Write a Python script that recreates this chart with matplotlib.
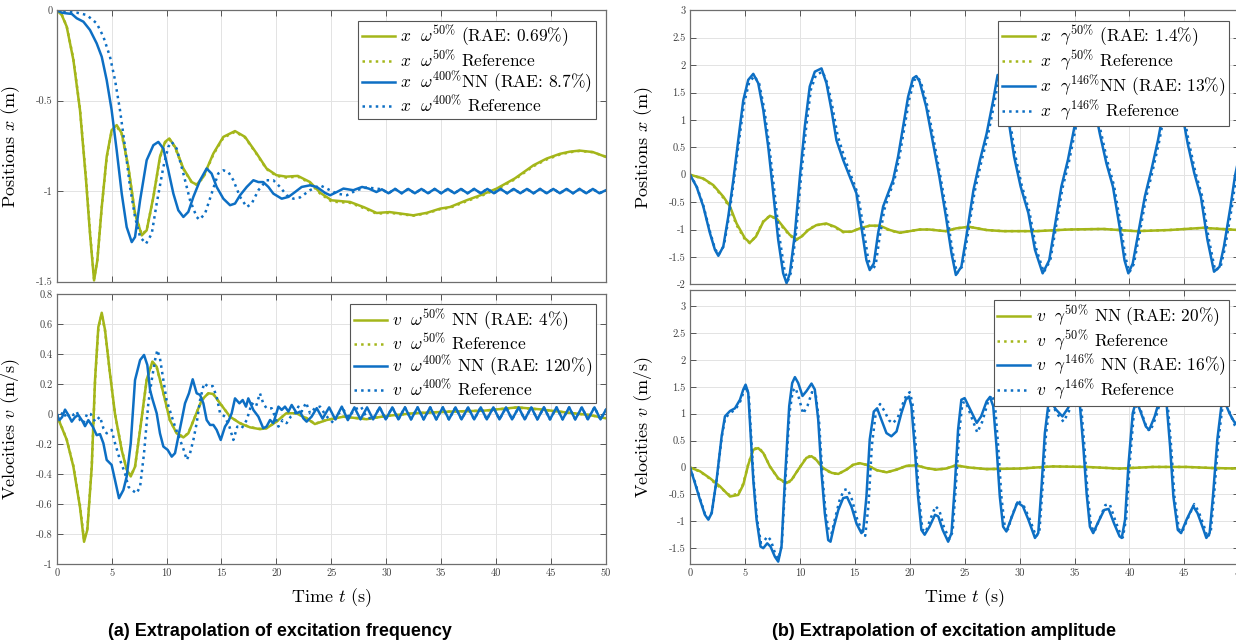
import numpy as np
import matplotlib
matplotlib.use('Agg')
import matplotlib.pyplot as plt
from matplotlib.ticker import FuncFormatter, MultipleLocator

# ---- data (time s, value) ----
# (a) frequency extrapolation, positions
xw50_nn = [(0, 0), (0.46, -0.026), (0.91, -0.09), (1.52, -0.275), (2.12, -0.552), (2.67, -0.94), (3.03, -1.235),
           (3.4, -1.494), (3.7, -1.383), (4.1, -1.088), (4.55, -0.81), (5.0, -0.663), (5.46, -0.635), (5.92, -0.68),
           (6.52, -0.866), (7.13, -1.124), (7.74, -1.245), (8.19, -1.217), (8.8, -1.032), (9.4, -0.81), (9.86, -0.728),
           (10.25, -0.709), (10.77, -0.755), (11.53, -0.875), (12.29, -0.95), (12.74, -0.964), (13.35, -0.921),
           (14.26, -0.792), (15.17, -0.70), (16.23, -0.668), (17.14, -0.70), (18.2, -0.792), (19.1, -0.875),
           (20.0, -0.912), (20.9, -0.92), (21.95, -0.916), (23.06, -0.95), (24.0, -1.01), (25.03, -1.051),
           (26.7, -1.06), (28.0, -1.09), (29.13, -1.121), (30.3, -1.116), (31.4, -1.125), (32.46, -1.134),
           (33.7, -1.12), (34.9, -1.097), (35.8, -1.088), (37.3, -1.051), (38.7, -1.02), (40.05, -0.986),
           (41.7, -0.93), (43.4, -0.857), (44.6, -0.82), (45.8, -0.794), (46.7, -0.782), (47.6, -0.776),
           (48.8, -0.784), (50, -0.811)]
xw50_ref = [(0, 0), (0.46, -0.024), (0.91, -0.088), (1.52, -0.27), (2.12, -0.545), (2.67, -0.93), (3.03, -1.225),
            (3.4, -1.485), (3.7, -1.38), (4.1, -1.09), (4.55, -0.815), (5.0, -0.67), (5.46, -0.642), (5.92, -0.685),
            (6.52, -0.87), (7.13, -1.125), (7.74, -1.24), (8.19, -1.215), (8.8, -1.035), (9.4, -0.815), (9.86, -0.732),
            (10.25, -0.712), (10.77, -0.758), (11.53, -0.878), (12.29, -0.952), (12.74, -0.965), (13.35, -0.925),
            (14.26, -0.797), (15.17, -0.705), (16.23, -0.672), (17.14, -0.703), (18.2, -0.795), (19.1, -0.878),
            (20.0, -0.916), (20.9, -0.925), (21.95, -0.92), (23.06, -0.955), (24.0, -1.015), (25.03, -1.058),
            (26.7, -1.065), (28.0, -1.095), (29.13, -1.125), (30.3, -1.12), (31.4, -1.128), (32.46, -1.136),
            (33.7, -1.123), (34.9, -1.1), (35.8, -1.092), (37.3, -1.056), (38.7, -1.025), (40.05, -0.99),
            (41.7, -0.935), (43.4, -0.862), (44.6, -0.825), (45.8, -0.798), (46.7, -0.785), (47.6, -0.778),
            (48.8, -0.785), (50, -0.81)]
xw400_tail = [(29.6, -0.99), (30.2, -1.012), (30.8, -0.988), (31.4, -1.012), (32.0, -0.988), (32.6, -1.012),
              (33.2, -0.988), (33.8, -1.012), (34.4, -0.988), (35.0, -1.012), (35.6, -0.988), (36.2, -1.012),
              (36.8, -0.988), (37.4, -1.012), (38.0, -0.988), (38.6, -1.012), (39.2, -0.988), (39.8, -1.012),
              (40.4, -0.988), (41.0, -1.012), (41.6, -0.988), (42.2, -1.012), (42.8, -0.988), (43.4, -1.012),
              (44.0, -0.988), (44.6, -1.012), (45.2, -0.988), (45.8, -1.012), (46.4, -0.988), (47.0, -1.012),
              (47.6, -0.988), (48.2, -1.012), (48.8, -0.988), (49.4, -1.012), (50.0, -0.995)]
xw400_nn = [(0, 0), (0.46, -0.013), (0.91, -0.017), (1.37, -0.02), (1.82, -0.044), (2.43, -0.063), (3.03, -0.109),
            (3.64, -0.183), (4.1, -0.257), (4.55, -0.386), (5.0, -0.552), (5.46, -0.774), (5.92, -1.014),
            (6.37, -1.199), (6.83, -1.282), (7.13, -1.254), (7.59, -1.051), (8.19, -0.829), (8.8, -0.746),
            (9.25, -0.728), (9.71, -0.765), (10.16, -0.885), (10.62, -1.014), (11.07, -1.106), (11.53, -1.143),
            (11.98, -1.115), (12.44, -1.032), (13.05, -0.94), (13.65, -0.875), (14.1, -0.903), (14.56, -0.977),
            (15.17, -1.042), (15.78, -1.078), (16.23, -1.069), (16.69, -1.023), (17.3, -0.977), (17.9, -0.94),
            (18.36, -0.95), (18.8, -0.95), (19.27, -0.977), (19.72, -1.014), (20.48, -1.042), (21.1, -1.032),
            (21.7, -1.005), (22.3, -0.977), (23.06, -0.968), (23.67, -0.977), (24.43, -1.01), (24.89, -1.023),
            (25.5, -1.005), (26.1, -0.986), (27.0, -0.995), (27.8, -0.977), (28.4, -0.986), (29.1, -1.005)] + xw400_tail
xw400_ref = [(0, 0), (1.82, -0.013), (2.73, -0.026), (3.64, -0.072), (4.25, -0.146), (4.85, -0.257), (5.31, -0.386),
             (5.76, -0.552), (6.22, -0.755), (6.67, -0.977), (7.13, -1.143), (7.59, -1.254), (8.13, -1.291),
             (8.65, -1.236), (9.1, -1.069), (9.71, -0.866), (10.16, -0.755), (10.47, -0.728), (10.92, -0.765),
             (11.53, -0.903), (12.14, -1.051), (12.74, -1.143), (12.99, -1.158), (13.5, -1.125), (14.1, -1.014),
             (14.7, -0.903), (15.17, -0.885), (15.62, -0.894), (16.08, -0.94), (16.69, -1.032), (17.3, -1.088),
             (17.75, -1.069), (18.36, -0.995), (19.1, -0.94), (19.72, -0.94), (20.33, -0.977), (20.93, -1.023),
             (21.54, -1.042), (22.15, -1.035), (23.06, -0.995), (23.97, -0.968), (24.58, -0.986), (25.5, -1.014),
             (26.4, -1.023), (27.3, -0.995), (28.2, -0.98), (29.1, -0.986)] + xw400_tail

# (a) frequency extrapolation, velocities
vw50_nn = [(0, 0), (0.3, -0.06), (0.91, -0.17), (1.52, -0.35), (2.12, -0.62), (2.49, -0.85), (2.79, -0.77),
           (3.19, -0.35), (3.49, 0.23), (3.79, 0.58), (4.1, 0.675), (4.4, 0.56), (4.85, 0.27), (5.31, 0.0),
           (5.92, -0.24), (6.37, -0.37), (6.74, -0.415), (7.13, -0.35), (7.59, -0.105), (8.19, 0.23), (8.71, 0.35),
           (9.1, 0.316), (9.71, 0.14), (10.3, -0.04), (10.92, -0.128), (11.53, -0.155), (11.98, -0.128),
           (12.59, -0.017), (13.2, 0.094), (13.8, 0.139), (14.26, 0.134), (14.87, 0.072), (15.78, -0.017),
           (16.69, -0.061), (17.6, -0.088), (18.5, -0.10), (19.1, -0.094), (20.0, -0.05), (20.9, 0.006),
           (21.8, 0.006), (22.75, -0.028), (23.5, -0.066), (24.58, -0.039), (26.1, -0.017), (28.2, -0.034),
           (30.0, -0.012), (32.5, 0.006), (35.8, 0.017), (38.9, 0.023), (41.9, 0.045), (44.0, 0.032),
           (46.5, 0.01), (48.5, -0.006), (50, -0.028)]
vw50_ref = [(0, 0), (0.3, -0.058), (0.91, -0.168), (1.52, -0.345), (2.12, -0.61), (2.49, -0.835), (2.79, -0.76),
            (3.19, -0.35), (3.49, 0.22), (3.79, 0.57), (4.1, 0.665), (4.4, 0.555), (4.85, 0.27), (5.31, 0.0),
            (5.92, -0.235), (6.37, -0.365), (6.74, -0.41), (7.13, -0.35), (7.59, -0.105), (8.19, 0.225), (8.71, 0.345),
            (9.1, 0.312), (9.71, 0.14), (10.3, -0.04), (10.92, -0.126), (11.53, -0.152), (11.98, -0.126),
            (12.59, -0.017), (13.2, 0.092), (13.8, 0.137), (14.26, 0.132), (14.87, 0.072), (15.78, -0.017),
            (16.69, -0.06), (17.6, -0.087), (18.5, -0.098), (19.1, -0.093), (20.0, -0.05), (20.9, 0.006),
            (21.8, 0.006), (22.75, -0.027), (23.5, -0.064), (24.58, -0.038), (26.1, -0.017), (28.2, -0.033),
            (30.0, -0.012), (32.5, 0.006), (35.8, 0.017), (38.9, 0.023), (41.9, 0.044), (44.0, 0.031),
            (46.5, 0.01), (48.5, -0.006), (50, -0.027)]
vw400_tail = [(29.4, 0.045), (29.95, -0.035), (30.55, 0.045), (31.1, -0.035), (31.7, 0.045), (32.25, -0.035),
              (32.85, 0.045), (33.4, -0.035), (34.0, 0.045), (34.55, -0.035), (35.15, 0.045), (35.7, -0.035),
              (36.3, 0.045), (36.85, -0.035), (37.45, 0.045), (38.0, -0.035), (38.6, 0.045), (39.15, -0.035),
              (39.75, 0.045), (40.3, -0.035), (40.9, 0.045), (41.45, -0.035), (42.05, 0.045), (42.6, -0.035),
              (43.2, 0.045), (43.75, -0.035), (44.35, 0.045), (44.9, -0.035), (45.5, 0.045), (46.05, -0.035),
              (46.65, 0.045), (47.2, -0.035), (47.8, 0.045), (48.35, -0.035), (48.95, 0.045), (49.5, -0.035),
              (50, 0.03)]
vw400_nn = [(0, 0), (0.24, -0.04), (0.49, -0.02), (0.76, 0.03), (1.06, -0.006), (1.37, -0.05), (1.67, -0.02),
            (1.97, -0.006), (2.37, -0.05), (2.58, -0.08), (2.88, -0.04), (3.28, -0.083), (3.64, -0.14), (3.94, -0.133),
            (4.25, -0.194), (4.55, -0.305), (5.0, -0.338), (5.31, -0.44), (5.67, -0.56), (6.07, -0.505),
            (6.37, -0.416), (6.74, -0.194), (7.13, 0.227), (7.59, 0.36), (7.95, 0.394), (8.25, 0.327), (8.5, 0.16),
            (8.74, 0.094), (9.1, 0.006), (9.4, -0.128), (9.71, -0.216), (10.1, -0.238), (10.47, -0.283),
            (10.77, -0.26), (11.07, -0.15), (11.38, -0.039), (11.68, 0.072), (12.04, 0.139), (12.38, 0.232),
            (12.74, 0.139), (13.05, 0.128), (13.35, 0.072), (13.65, -0.039), (13.96, -0.072), (14.26, -0.072),
            (14.56, -0.105), (14.93, -0.172), (15.32, -0.083), (15.62, -0.05), (15.93, 0.006), (16.23, 0.105),
            (16.63, 0.072), (16.93, 0.094), (17.23, 0.05), (17.44, 0.105), (17.9, 0.028), (18.36, -0.017),
            (18.8, -0.094), (19.1, -0.083), (19.42, -0.039), (19.72, -0.06), (20.18, 0.05), (20.48, 0.028),
            (20.78, 0.05), (21.09, 0.017), (21.39, 0.061), (21.85, 0.006), (22.15, 0.017), (22.45, -0.028),
            (22.75, -0.05), (23.2, -0.017), (23.67, 0.04), (24.2, -0.03), (24.8, 0.045), (25.35, -0.035),
            (25.95, 0.05), (26.5, -0.04), (27.1, 0.045), (27.65, -0.035), (28.25, 0.045), (28.8, -0.035)] + vw400_tail
vw400_ref = [(0, 0), (0.3, -0.017), (0.6, 0.017), (0.91, -0.028), (1.21, 0.006), (1.52, -0.006), (1.82, 0.017),
             (2.12, -0.04), (2.43, -0.06), (2.79, 0.006), (3.1, 0.0), (3.49, -0.05), (3.94, -0.017), (4.25, -0.094),
             (4.55, -0.128), (5.0, -0.105), (5.31, -0.194), (5.76, -0.305), (6.22, -0.394), (6.52, -0.483),
             (6.83, -0.505), (7.28, -0.527), (7.59, -0.483), (7.95, -0.26), (8.34, 0.072), (8.65, 0.227),
             (8.95, 0.36), (9.16, 0.427), (9.4, 0.372), (9.71, 0.227), (10.0, 0.094), (10.38, 0.006), (10.77, -0.083),
             (11.23, -0.172), (11.62, -0.25), (11.83, -0.305), (12.14, -0.26), (12.44, -0.172), (12.74, -0.06),
             (13.05, 0.094), (13.41, 0.205), (13.8, 0.183), (14.2, 0.187), (14.56, 0.116), (14.87, 0.006),
             (15.32, -0.017), (15.72, -0.083), (16.08, -0.172), (16.44, -0.083), (16.84, -0.094), (17.3, -0.039),
             (17.75, 0.072), (18.14, 0.05), (18.5, 0.139), (18.8, 0.072), (19.1, 0.039), (19.57, 0.039),
             (19.87, -0.017), (20.18, -0.083), (20.57, -0.039), (20.93, -0.06), (21.3, -0.017), (21.7, 0.006),
             (22.0, 0.05), (22.3, 0.017), (22.7, 0.077), (23.06, 0.006), (23.5, 0.039), (23.97, 0.05),
             (24.5, -0.01), (25.2, -0.06), (25.6, 0.0), (26.1, 0.028), (26.6, -0.02), (27.1, 0.03), (27.7, 0.05),
             (28.2, -0.02), (28.8, -0.035)] + vw400_tail

# (b) amplitude extrapolation, positions
xg50_nn = [(0, 0), (1.21, -0.07), (2.12, -0.19), (3.03, -0.4), (3.64, -0.58), (4.24, -0.89), (5.0, -1.16),
           (5.45, -1.24), (6.0, -1.13), (6.67, -0.86), (7.27, -0.75), (7.88, -0.8), (8.48, -0.95), (9.09, -1.1),
           (9.7, -1.18), (10.15, -1.13), (10.76, -1.01), (11.5, -0.92), (12.4, -0.89), (13.2, -0.95), (13.94, -1.04),
           (14.7, -1.04), (15.45, -0.98), (16.36, -0.93), (17.27, -0.93), (18.2, -1.01), (19.1, -1.06), (20.0, -1.03),
           (20.9, -1.0), (21.8, -1.0), (22.7, -1.02), (23.3, -1.03), (24.2, -0.98), (25.4, -0.95), (27.0, -1.01),
           (28.5, -1.03), (31.5, -1.03), (34.5, -1.0), (37.6, -0.99), (40.6, -1.03), (43.6, -1.01), (46.7, -0.97),
           (50, -1.01)]
xg50_ref = [(0, 0), (1.21, -0.075), (2.12, -0.2), (3.03, -0.42), (3.64, -0.61), (4.24, -0.92), (5.0, -1.18),
            (5.45, -1.25), (6.0, -1.12), (6.67, -0.85), (7.27, -0.75), (7.88, -0.81), (8.48, -0.97), (9.09, -1.11),
            (9.7, -1.19), (10.15, -1.13), (10.76, -1.0), (11.5, -0.92), (12.4, -0.9), (13.2, -0.96), (13.94, -1.05),
            (14.7, -1.04), (15.45, -0.98), (16.36, -0.93), (17.27, -0.94), (18.2, -1.02), (19.1, -1.06), (20.0, -1.03),
            (20.9, -1.0), (21.8, -1.0), (22.7, -1.02), (23.3, -1.03), (24.2, -0.98), (25.4, -0.95), (27.0, -1.01),
            (28.5, -1.03), (31.5, -1.03), (34.5, -1.0), (37.6, -0.99), (40.6, -1.03), (43.6, -1.01), (46.7, -0.97),
            (50, -1.01)]
xg146_nn = [(0, 0), (0.6, -0.22), (1.21, -0.58), (1.82, -1.07), (2.27, -1.37), (2.58, -1.48), (3.03, -1.31),
            (3.48, -0.77), (3.94, -0.1), (4.39, 0.63), (4.85, 1.36), (5.3, 1.73), (5.76, 1.84), (6.21, 1.67),
            (6.67, 1.18), (7.12, 0.51), (7.58, -0.34), (8.03, -1.19), (8.48, -1.8), (8.79, -1.98), (9.09, -1.8),
            (9.55, -1.07), (10.0, -0.04), (10.45, 0.88), (10.9, 1.61), (11.36, 1.88), (11.97, 1.94), (12.42, 1.67),
            (12.88, 1.18), (13.33, 0.63), (13.94, 0.27), (14.55, -0.04), (15.15, -0.34), (15.6, -0.95),
            (16.06, -1.56), (16.36, -1.74), (16.73, -1.62), (17.12, -1.07), (17.58, -0.58), (18.03, -0.34),
            (18.48, -0.1), (18.94, 0.33), (19.4, 0.88), (19.85, 1.42), (20.3, 1.76), (20.6, 1.8), (20.9, 1.7),
            (21.5, 1.24), (22.1, 0.6), (22.7, -0.04), (23.3, -0.77), (23.8, -1.43), (24.2, -1.83), (24.7, -1.68),
            (25.2, -1.07), (25.8, -0.28), (26.4, 0.27), (27.0, 0.75), (27.6, 1.36), (28.0, 1.82), (28.4, 1.73),
            (28.9, 1.12), (29.5, 0.33), (30.1, -0.22), (30.8, -0.7), (31.4, -1.37), (32.1, -1.8), (32.7, -1.56),
            (33.2, -0.95), (33.8, -0.22), (34.4, 0.27), (35.0, 0.88), (35.4, 1.36), (35.8, 1.61), (36.3, 1.85),
            (36.7, 1.36), (37.3, 0.75), (37.9, 0.21), (38.5, -0.22), (39.1, -0.95), (39.55, -1.56), (39.9, -1.8),
            (40.3, -1.62), (40.8, -1.07), (41.4, -0.4), (42.0, 0.09), (42.6, 0.63), (43.05, 1.12), (43.7, 1.85),
            (44.3, 1.6), (44.8, 1.12), (45.3, 0.57), (45.9, 0.03), (46.5, -0.4), (47.1, -1.19), (47.7, -1.77),
            (48.2, -1.68), (48.6, -1.31), (49.2, -0.58), (49.6, -0.03), (50.0, 0.35)]
xg146_ref = [(0, 0), (0.6, -0.21), (1.21, -0.56), (1.82, -1.04), (2.27, -1.35), (2.6, -1.46), (3.08, -1.3),
             (3.55, -0.76), (4.0, -0.1), (4.45, 0.6), (4.92, 1.3), (5.38, 1.68), (5.86, 1.8), (6.3, 1.66),
             (6.76, 1.2), (7.2, 0.55), (7.68, -0.3), (8.13, -1.12), (8.6, -1.74), (8.92, -1.93), (9.2, -1.78),
             (9.65, -1.07), (10.1, -0.06), (10.55, 0.82), (11.0, 1.55), (11.46, 1.82), (12.07, 1.88), (12.52, 1.66),
             (12.98, 1.22), (13.43, 0.72), (14.05, 0.32), (14.66, -0.02), (15.28, -0.35), (15.75, -0.92),
             (16.2, -1.52), (16.55, -1.74), (16.9, -1.65), (17.25, -1.15), (17.7, -0.63), (18.13, -0.36),
             (18.58, -0.12), (19.04, 0.3), (19.5, 0.84), (19.95, 1.37), (20.4, 1.72), (20.7, 1.78), (21.0, 1.7),
             (21.6, 1.26), (22.2, 0.62), (22.8, -0.04), (23.4, -0.74), (23.9, -1.4), (24.3, -1.8), (24.8, -1.67),
             (25.3, -1.08), (25.9, -0.32), (26.5, 0.22), (27.1, 0.7), (27.7, 1.3), (28.1, 1.77), (28.5, 1.72),
             (29.0, 1.14), (29.6, 0.36), (30.2, -0.2), (30.9, -0.68), (31.5, -1.34), (32.2, -1.78), (32.8, -1.56),
             (33.3, -0.97), (33.9, -0.25), (34.5, 0.24), (35.1, 0.84), (35.5, 1.32), (35.9, 1.58), (36.4, 1.82),
             (36.8, 1.38), (37.4, 0.78), (38.0, 0.24), (38.6, -0.2), (39.2, -0.92), (39.65, -1.52), (40.0, -1.78),
             (40.4, -1.63), (40.9, -1.1), (41.5, -0.43), (42.1, 0.06), (42.7, 0.6), (43.15, 1.08), (43.8, 1.82),
             (44.4, 1.6), (44.9, 1.15), (45.4, 0.6), (46.0, 0.05), (46.6, -0.38), (47.2, -1.15), (47.8, -1.75),
             (48.3, -1.68), (48.7, -1.33), (49.3, -0.62), (49.7, -0.06), (50.0, 0.3)]

# (b) amplitude extrapolation, velocities
vg50_nn = [(0, 0), (0.91, -0.07), (1.82, -0.2), (2.73, -0.35), (3.64, -0.54), (4.39, -0.51), (4.85, -0.32),
           (5.3, 0.05), (5.76, 0.33), (6.21, 0.36), (6.67, 0.27), (7.27, 0.02), (8.03, -0.2), (8.79, -0.29),
           (9.24, -0.23), (9.85, -0.04), (10.6, 0.18), (11.06, 0.21), (11.5, 0.14), (12.1, -0.01), (12.9, -0.1),
           (13.5, -0.12), (14.24, -0.04), (14.85, 0.05), (15.45, 0.08), (16.06, 0.05), (17.0, -0.05), (17.9, -0.09),
           (18.8, -0.04), (19.7, 0.03), (20.6, 0.04), (21.5, -0.01), (22.4, -0.04), (23.3, -0.02), (24.2, 0.04),
           (25.4, 0.0), (27.0, -0.03), (30.0, -0.02), (33.0, 0.02), (36.1, 0.01), (39.1, -0.02), (42.1, 0.01),
           (45.2, 0.01), (47.6, -0.01), (50, -0.02)]
vg50_ref = [(0, 0), (0.91, -0.075), (1.82, -0.21), (2.73, -0.37), (3.64, -0.52), (4.39, -0.49), (4.85, -0.3),
            (5.3, 0.06), (5.76, 0.34), (6.21, 0.37), (6.67, 0.28), (7.27, 0.02), (8.03, -0.21), (8.79, -0.3),
            (9.24, -0.24), (9.85, -0.04), (10.6, 0.19), (11.06, 0.22), (11.5, 0.15), (12.1, -0.01), (12.9, -0.11),
            (13.5, -0.12), (14.24, -0.04), (14.85, 0.05), (15.45, 0.08), (16.06, 0.05), (17.0, -0.05), (17.9, -0.09),
            (18.8, -0.04), (19.7, 0.03), (20.6, 0.04), (21.5, -0.01), (22.4, -0.04), (23.3, -0.02), (24.2, 0.04),
            (25.4, 0.0), (27.0, -0.03), (30.0, -0.02), (33.0, 0.02), (36.1, 0.01), (39.1, -0.02), (42.1, 0.01),
            (45.2, 0.01), (47.6, -0.01), (50, -0.02)]
vg146_nn = [(0, 0), (0.45, -0.29), (0.91, -0.6), (1.36, -0.88), (1.67, -0.97), (1.97, -0.85), (2.42, -0.23),
            (2.88, 0.58), (3.18, 0.95), (3.64, 1.05), (4.09, 1.1), (4.55, 1.26), (4.85, 1.45), (5.06, 1.54),
            (5.3, 1.39), (5.5, 0.7), (5.76, -0.23), (6.06, -0.97), (6.42, -1.47), (6.67, -1.5), (7.03, -1.41),
            (7.33, -1.47), (7.73, -1.66), (8.03, -1.75), (8.33, -1.47), (8.64, -0.23), (9.03, 1.14), (9.3, 1.57),
            (9.55, 1.68), (9.85, 1.57), (10.24, 1.33), (10.6, 1.42), (11.06, 1.56), (11.36, 1.45), (11.67, 0.89),
            (11.97, -0.1), (12.27, -0.85), (12.58, -1.35), (12.79, -1.38), (13.1, -1.1), (13.5, -0.79),
            (13.94, -0.57), (14.3, -0.55), (14.7, -0.73), (15.15, -1.04), (15.6, -1.22), (15.76, -1.19),
            (16.06, -0.54), (16.36, 0.52), (16.73, 1.04), (17.03, 1.1), (17.42, 0.89), (17.88, 0.64), (18.33, 0.58),
            (18.8, 0.67), (19.24, 1.01), (19.64, 1.26), (19.94, 1.32), (20.15, 1.14), (20.45, 0.39), (20.76, -0.54),
            (21.06, -1.16), (21.36, -1.25), (21.8, -1.1), (22.3, -0.88), (22.6, -0.91), (23.0, -1.16),
            (23.5, -1.38), (23.8, -1.22), (24.1, -0.35), (24.4, 0.7), (24.7, 1.26), (25.0, 1.29), (25.5, 1.08),
            (26.1, 0.83), (26.5, 0.95), (27.0, 1.23), (27.3, 1.31), (27.6, 1.14), (27.9, 0.39), (28.2, -0.54),
            (28.5, -1.1), (28.8, -1.19), (29.2, -0.97), (29.8, -0.65), (30.3, -0.72), (30.8, -0.97), (31.4, -1.31),
            (31.7, -1.22), (32.0, -0.35), (32.3, 0.64), (32.6, 1.14), (32.9, 1.21), (33.3, 1.08), (33.9, 0.95),
            (34.4, 1.1), (34.9, 1.32), (35.2, 1.33), (35.5, 1.14), (35.8, 0.39), (36.1, -0.48), (36.4, -1.1),
            (36.7, -1.22), (37.1, -1.04), (37.7, -0.79), (38.1, -0.77), (38.6, -1.04), (39.1, -1.28), (39.3, -1.31),
            (39.6, -0.97), (39.9, 0.02), (40.3, 1.01), (40.6, 1.23), (40.9, 1.1), (41.5, 0.76), (41.8, 0.7),
            (42.3, 0.95), (42.7, 1.23), (43.1, 1.32), (43.4, 1.14), (43.7, 0.39), (44.0, -0.54), (44.4, -1.16),
            (44.7, -1.22), (45.2, -0.97), (45.8, -0.72), (46.2, -0.85), (46.7, -1.13), (47.0, -1.31), (47.3, -1.22),
            (47.6, -0.54), (48.0, 0.52), (48.4, 1.2), (48.7, 1.21), (49.1, 1.01), (49.5, 0.86), (50.0, 0.75)]
vg146_ref = [(0, 0), (0.45, -0.27), (0.91, -0.58), (1.36, -0.86), (1.7, -0.95), (2.0, -0.83), (2.45, -0.2),
             (2.9, 0.58), (3.2, 0.92), (3.7, 1.02), (4.15, 1.08), (4.6, 1.24), (4.9, 1.42), (5.1, 1.5), (5.35, 1.35),
             (5.55, 0.65), (5.8, -0.25), (6.1, -0.95), (6.45, -1.4), (6.7, -1.38), (7.05, -1.28), (7.35, -1.35),
             (7.75, -1.6), (8.05, -1.7), (8.35, -1.45), (8.7, -0.2), (9.05, 1.0), (9.35, 1.42), (9.6, 1.48),
             (9.9, 1.3), (10.3, 1.0), (10.7, 1.15), (11.1, 1.4), (11.45, 1.35), (11.75, 0.85), (12.05, -0.15),
             (12.35, -0.85), (12.65, -1.2), (12.9, -1.22), (13.2, -0.95), (13.6, -0.62), (14.0, -0.42), (14.35, -0.4),
             (14.75, -0.6), (15.2, -0.95), (15.7, -1.2), (15.95, -1.27), (16.25, -0.7), (16.55, 0.4), (16.9, 1.0),
             (17.3, 1.18), (17.7, 1.05), (18.1, 0.88), (18.45, 0.82), (18.9, 0.92), (19.3, 1.15), (19.7, 1.35),
             (20.0, 1.4), (20.25, 1.2), (20.55, 0.4), (20.85, -0.55), (21.15, -1.15), (21.45, -1.2), (21.9, -0.95),
             (22.35, -0.72), (22.7, -0.8), (23.1, -1.1), (23.6, -1.33), (23.9, -1.2), (24.2, -0.35), (24.5, 0.65),
             (24.8, 1.2), (25.1, 1.22), (25.6, 0.95), (26.15, 0.65), (26.6, 0.85), (27.1, 1.2), (27.45, 1.35),
             (27.75, 1.2), (28.05, 0.4), (28.35, -0.55), (28.65, -1.1), (28.95, -1.15), (29.3, -0.9), (29.85, -0.62),
             (30.35, -0.7), (30.9, -0.95), (31.5, -1.28), (31.8, -1.2), (32.1, -0.35), (32.4, 0.6), (32.7, 1.1),
             (33.0, 1.17), (33.4, 1.0), (34.0, 0.85), (34.5, 1.05), (35.0, 1.3), (35.3, 1.33), (35.6, 1.15),
             (35.9, 0.4), (36.2, -0.5), (36.5, -1.08), (36.8, -1.2), (37.2, -1.0), (37.8, -0.7), (38.2, -0.68),
             (38.7, -0.98), (39.2, -1.25), (39.4, -1.3), (39.7, -0.95), (40.0, 0.02), (40.4, 1.0), (40.7, 1.2),
             (41.0, 1.08), (41.6, 0.72), (41.9, 0.68), (42.4, 0.93), (42.8, 1.22), (43.2, 1.3), (43.5, 1.12),
             (43.8, 0.38), (44.1, -0.55), (44.5, -1.15), (44.8, -1.2), (45.3, -0.95), (45.9, -0.68), (46.3, -0.82),
             (46.8, -1.1), (47.1, -1.3), (47.4, -1.2), (47.7, -0.52), (48.1, 0.52), (48.5, 1.18), (48.8, 1.2),
             (49.2, 0.98), (49.6, 0.78), (50, 0.68)]

GREEN = '#a4b61a'
BLUE = '#0d6fc4'

plt.rcParams['font.family'] = ['cmr10', 'DejaVu Serif']
plt.rcParams['mathtext.fontset'] = 'cm'
plt.rcParams['axes.unicode_minus'] = False

fig = plt.figure(figsize=(12.36, 6.44), dpi=100)
W, H = 1236.0, 644.0


def add_ax(x0, y0, x1, y1):
    # pixel box (top-left origin) -> figure fraction
    return fig.add_axes([x0 / W, 1 - y1 / H, (x1 - x0) / W, (y1 - y0) / H])


def tick_fmt(v, pos):
    v = round(v, 6)
    if v == 0:
        return '0'
    return f'{v:g}'


def style(ax, ylim, ystep, show_x):
    ax.set_xlim(0, 50)
    ax.set_ylim(*ylim)
    ax.xaxis.set_major_locator(MultipleLocator(5))
    ax.yaxis.set_major_locator(MultipleLocator(ystep))
    ax.yaxis.set_major_formatter(FuncFormatter(tick_fmt))
    ax.xaxis.set_major_formatter(FuncFormatter(tick_fmt))
    ax.tick_params(direction='in', length=4, width=0.7, top=True, right=True,
                   labelsize=7.5, colors='#555555', labelcolor='#404040', pad=3)
    if not show_x:
        ax.tick_params(labelbottom=False)
    ax.grid(True, color='#e3e3e3', lw=0.7)
    ax.set_axisbelow(True)
    for s in ax.spines.values():
        s.set_color('#6e6e6e')
        s.set_linewidth(0.9)


def draw(ax, series, labels):
    for (data, col, ls), lab in zip(series, labels):
        arr = np.array(data)
        ax.plot(arr[:, 0], arr[:, 1], color=col, ls=ls, lw=1.8, label=lab)
    leg = ax.legend(loc='upper right', fontsize=12.5, frameon=True, fancybox=False,
                    framealpha=1, edgecolor='#555555', handlelength=1.9, handletextpad=0.3,
                    labelspacing=0.0, borderpad=0.2, borderaxespad=0.6)
    leg.get_frame().set_linewidth(0.8)


# (a) frequency
ax1 = add_ax(56.7, 10.3, 606, 281.5)
style(ax1, (-1.5, 0), 0.5, False)
draw(ax1, [(xw50_nn, GREEN, '-'), (xw50_ref, GREEN, ':'), (xw400_nn, BLUE, '-'), (xw400_ref, BLUE, ':')],
     [r'$x\ \ \omega^{50\%}$ (RAE: 0.69%)', r'$x\ \ \omega^{50\%}$ Reference',
      r'$x\ \ \omega^{400\%}$NN (RAE: 8.7%)', r'$x\ \ \omega^{400\%}$ Reference'])
ax1.set_ylabel(r'Positions $x$ (m)', fontsize=13)
ax1.yaxis.set_label_coords(-0.063, 0.5)

ax2 = add_ax(56.7, 294, 606, 564.3)
style(ax2, (-1, 0.8), 0.2, True)
draw(ax2, [(vw50_nn, GREEN, '-'), (vw50_ref, GREEN, ':'), (vw400_nn, BLUE, '-'), (vw400_ref, BLUE, ':')],
     [r'$v\ \ \omega^{50\%}$ NN (RAE: 4%)', r'$v\ \ \omega^{50\%}$ Reference',
      r'$v\ \ \omega^{400\%}$ NN (RAE: 120%)', r'$v\ \ \omega^{400\%}$ Reference'])
ax2.set_ylabel(r'Velocities $v$ (m/s)', fontsize=13)
ax2.yaxis.set_label_coords(-0.063, 0.5)
ax2.set_xlabel(r'Time $t$ (s)', fontsize=13, labelpad=6)

# (b) amplitude (axes run past the right edge, as in the source figure)
ax3 = add_ax(690, 10.3, 1239.3, 284.3)
style(ax3, (-2, 3), 0.5, False)
draw(ax3, [(xg50_nn, GREEN, '-'), (xg50_ref, GREEN, ':'), (xg146_nn, BLUE, '-'), (xg146_ref, BLUE, ':')],
     [r'$x\ \ \gamma^{50\%}$ (RAE: 1.4%)', r'$x\ \ \gamma^{50\%}$ Reference',
      r'$x\ \ \gamma^{146\%}$NN (RAE: 13%)', r'$x\ \ \gamma^{146\%}$ Reference'])
ax3.set_ylabel(r'Positions $x$ (m)', fontsize=13)
ax3.yaxis.set_label_coords(-0.063, 0.5)

ax4 = add_ax(690, 290, 1239.3, 564.3)
style(ax4, (-1.8, 3.3), 0.5, True)
draw(ax4, [(vg50_nn, GREEN, '-'), (vg50_ref, GREEN, ':'), (vg146_nn, BLUE, '-'), (vg146_ref, BLUE, ':')],
     [r'$v\ \ \gamma^{50\%}$ NN (RAE: 20%)', r'$v\ \ \gamma^{50\%}$ Reference',
      r'$v\ \ \gamma^{146\%}$ NN (RAE: 16%)', r'$v\ \ \gamma^{146\%}$ Reference'])
ax4.set_ylabel(r'Velocities $v$ (m/s)', fontsize=13)
ax4.yaxis.set_label_coords(-0.063, 0.5)
ax4.set_xlabel(r'Time $t$ (s)', fontsize=13, labelpad=6)

cap = dict(fontsize=13, fontweight='bold', family='Liberation Sans', ha='center', va='center')
fig.text(280 / W, 1 - 632 / H, '(a) Extrapolation of excitation frequency', **cap)
fig.text(944 / W, 1 - 632 / H, '(b) Extrapolation of excitation amplitude', **cap)

fig.savefig('out.png', dpi=100)
